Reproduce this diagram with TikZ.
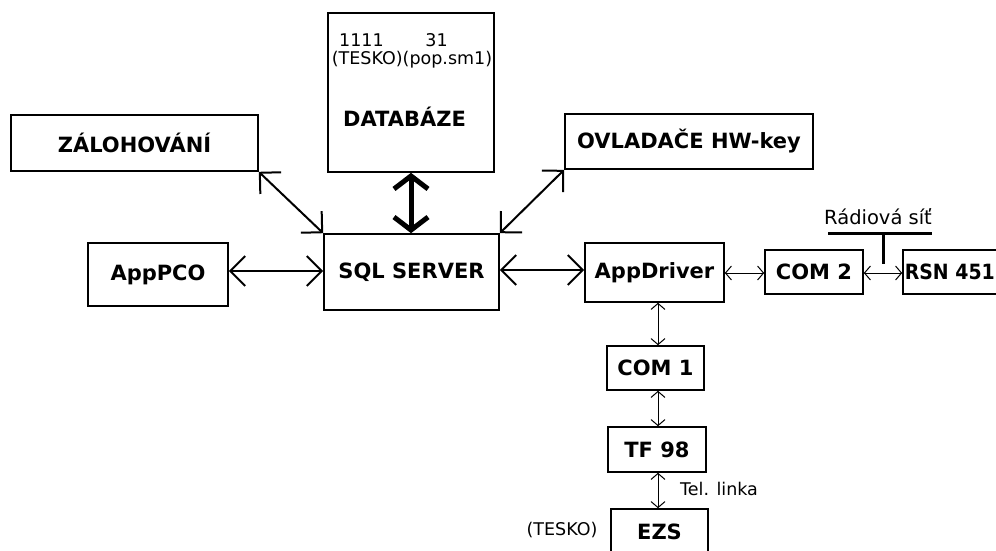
\documentclass[tikz,border=0pt]{standalone}
\usepackage{fontspec}
\setmainfont{DejaVu Sans}
\usetikzlibrary{arrows.meta}
\tikzset{
  box/.style={draw, line width=1.6pt, rectangle, inner sep=0pt,
    font=\fontsize{21}{24}\selectfont\bfseries},
  plain/.style={inner sep=0pt, font=\fontsize{17.5}{20}\selectfont},
  bigarrow/.style={line width=2pt,
    {Straight Barb[length=15pt,width=30pt]}-{Straight Barb[length=15pt,width=30pt]}},
  dbarrow/.style={line width=5pt,
    {Straight Barb[length=13pt,width=34pt]}-{Straight Barb[length=13pt,width=34pt]}},
  smallarrow/.style={line width=1pt,
    {Straight Barb[length=6pt,width=14pt]}-{Straight Barb[length=6pt,width=14pt]}},
  radio/.style={line width=3pt}
}
\begin{document}
\begin{tikzpicture}[x=1pt,y=-1pt]
\clip (0,0) rectangle (996,550);
\fill[white] (0,0) rectangle (996,550);

% main blocks
\node[box, minimum width=247pt, minimum height=56pt] (zal) at (134.5,143) {ZÁLOHOVÁNÍ};
\node[box, minimum width=166pt, minimum height=159pt] (db) at (411,92.5) {};
\node[box, minimum width=248pt, minimum height=55pt] (ovl) at (689,141.5) {OVLADAČE HW-key};
\node[box, minimum width=140pt, minimum height=63pt] (apppco) at (158,274.5) {AppPCO};
\node[box, minimum width=175pt, minimum height=76pt] (sql) at (411.5,272) {SQL SERVER};
\node[box, minimum width=139pt, minimum height=59pt] (appdrv) at (654.5,272.5) {AppDriver};
\node[box, minimum width=98pt, minimum height=44pt] (com2) at (814,272) {COM 2};
\node[box, minimum width=107pt, minimum height=44pt] (rsn) at (956.5,272) {};
\node[box, anchor=west, draw=none] (rsnt) at (904,272) {\scalebox{0.9}[1]{RSN 451}};
\node[box, minimum width=97pt, minimum height=44pt] (com1) at (655.5,368) {COM 1};
\node[box, minimum width=98pt, minimum height=45pt] (tf) at (657,449.5) {TF 98};
\node[box, minimum width=97pt, minimum height=61pt] (ezs) at (659.5,539.5) {};
\node[box, draw=none] (ezst) at (659.5,532) {EZS};

% database contents
\node[plain] (n1) at (361.5,40) {1111};
\node[plain] (n2) at (436.5,40) {31};
\node[plain] (n3) at (412,60) {(TESKO)(pop.sm1)};
\node[box, draw=none] (dbt) at (404.5,117) {DATABÁZE};

% side labels
\node[plain, font=\fontsize{19.5}{22}\selectfont] (radiot) at (878,217) {Rádiová síť};
\node[plain, anchor=west] (tel) at (680,489) {Tel. linka};
\node[plain] (tesko) at (562,530) {(TESKO)};

% links to the SQL server
\draw[bigarrow] (zal.south east) -- (sql.north west);
\draw[bigarrow] (ovl.south west) -- (sql.north east);
\draw[dbarrow] (db.south) -- (db.south |- sql.north);
\draw[bigarrow] (apppco.east |- 0,271) -- (sql.west |- 0,271);
\draw[bigarrow] (sql.east |- 0,270) -- (appdrv.west |- 0,270);

% driver side
\draw[smallarrow] (appdrv.east |- 0,273) -- (com2.west |- 0,273);
\draw[smallarrow] (com2.east |- 0,273) -- (rsn.west |- 0,273);
\draw[smallarrow] (658,0 |- appdrv.south) -- (658,0 |- com1.north);
\draw[smallarrow] (658,0 |- com1.south) -- (658,0 |- tf.north);
\draw[smallarrow] (658,0 |- tf.south) -- (658,0 |- ezs.north);

% radio network bar
\coordinate (rb1) at (828,233);
\coordinate (rb2) at (932,233);
\coordinate (rbtop) at (883,233);
\coordinate (rbdrop) at (883,264);
\draw[radio] (rb1) -- (rb2);
\draw[radio] (rbtop) -- (rbdrop);
\end{tikzpicture}
\end{document}
